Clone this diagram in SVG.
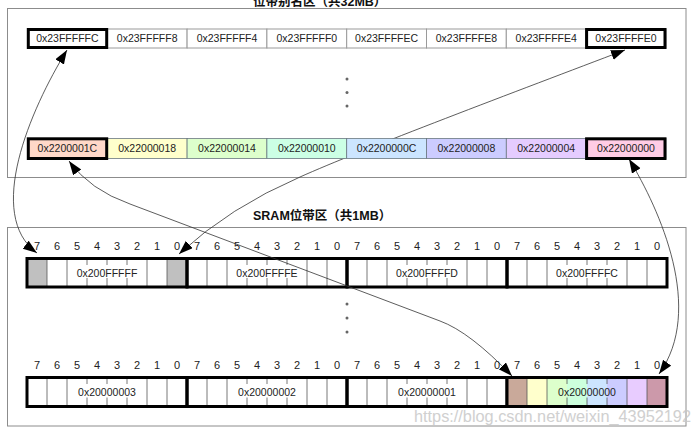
<svg xmlns="http://www.w3.org/2000/svg" width="696" height="433" viewBox="0 0 696 433">
<style>
.panel{fill:none;stroke:#8c8c8c;stroke-width:1}
.c1{fill:#fff;stroke:#9a9a9a;stroke-width:1}
.c2{stroke:#6a7880;stroke-width:0.8}
.hl{fill:none;stroke:#000;stroke-width:3}
.t{font-family:"Liberation Sans",Arial,sans-serif;font-size:10.5px;fill:#222;text-anchor:middle}
.bit{font-family:"Liberation Sans",Arial,sans-serif;font-size:11px;fill:#222;text-anchor:middle}
.title{font-family:"Liberation Sans","Noto Sans CJK SC",sans-serif;font-size:12.5px;font-weight:bold;fill:#111}
.byte{fill:none;stroke:#000;stroke-width:3}
.dv{stroke:#555;stroke-width:0.8}
.dot{fill:#666}
.conn{fill:none;stroke:#333;stroke-width:0.8;marker-start:url(#ah);marker-end:url(#ah)}
.wm{font-family:"Liberation Sans",Arial,sans-serif;font-size:16.3px;fill:#c8c8c8;opacity:0.85}
</style>
<defs>
<marker id="ah" markerUnits="userSpaceOnUse" markerWidth="15" markerHeight="11" refX="14" refY="5" orient="auto-start-reverse" viewBox="0 0 15 11">
<path d="M0,0 L14,5 L0,10 Z" fill="#000"/>
</marker>
</defs>
<rect width="696" height="433" fill="#fff"/>

<g id="alias-panel">
<text class="title" x="253" y="6">位带别名区（共32MB）</text>
<rect class="panel" x="7.5" y="8.5" width="678.5" height="169"/>
<circle class="dot" cx="347" cy="79" r="1.5"/>
<circle class="dot" cx="347" cy="92.5" r="1.5"/>
<circle class="dot" cx="347" cy="106" r="1.5"/>
</g>

<g id="sram-panel">
<text class="title" x="253" y="220">SRAM位带区（共1MB）</text>
<rect class="panel" x="7.5" y="227.5" width="678.5" height="198.5"/>
<circle class="dot" cx="347" cy="304" r="1.5"/>
<circle class="dot" cx="347" cy="318" r="1.5"/>
<circle class="dot" cx="347" cy="332" r="1.5"/>
</g>

<g id="bit-labels">
<g class="bit">
<text x="37" y="250">7</text><text x="57" y="250">6</text><text x="77" y="250">5</text><text x="97" y="250">4</text><text x="117" y="250">3</text><text x="137" y="250">2</text><text x="157" y="250">1</text><text x="177" y="250">0</text>
<text x="197" y="250">7</text><text x="217" y="250">6</text><text x="237" y="250">5</text><text x="257" y="250">4</text><text x="277" y="250">3</text><text x="297" y="250">2</text><text x="317" y="250">1</text><text x="337" y="250">0</text>
<text x="357" y="250">7</text><text x="377" y="250">6</text><text x="397" y="250">5</text><text x="417" y="250">4</text><text x="437" y="250">3</text><text x="457" y="250">2</text><text x="477" y="250">1</text><text x="497" y="250">0</text>
<text x="517" y="250">7</text><text x="537" y="250">6</text><text x="557" y="250">5</text><text x="577" y="250">4</text><text x="597" y="250">3</text><text x="617" y="250">2</text><text x="637" y="250">1</text><text x="657" y="250">0</text>
<text x="37" y="369">7</text><text x="57" y="369">6</text><text x="77" y="369">5</text><text x="97" y="369">4</text><text x="117" y="369">3</text><text x="137" y="369">2</text><text x="157" y="369">1</text><text x="177" y="369">0</text>
<text x="197" y="369">7</text><text x="217" y="369">6</text><text x="237" y="369">5</text><text x="257" y="369">4</text><text x="277" y="369">3</text><text x="297" y="369">2</text><text x="317" y="369">1</text><text x="337" y="369">0</text>
<text x="357" y="369">7</text><text x="377" y="369">6</text><text x="397" y="369">5</text><text x="417" y="369">4</text><text x="437" y="369">3</text><text x="457" y="369">2</text><text x="477" y="369">1</text><text x="497" y="369">0</text>
<text x="517" y="369">7</text><text x="537" y="369">6</text><text x="557" y="369">5</text><text x="577" y="369">4</text><text x="597" y="369">3</text><text x="617" y="369">2</text><text x="637" y="369">1</text><text x="657" y="369">0</text>
</g>
</g>

<g id="byte-200FFFFF">
<rect x="27" y="258.5" width="20" height="28.5" fill="#c0c0c0"/>
<rect x="167" y="258.5" width="20" height="28.5" fill="#c0c0c0"/>
<path class="dv" d="M47,258.5V287M67,258.5V287M147,258.5V287M167,258.5V287M87,258.5v6.5M107,258.5v6.5M127,258.5v6.5M87,278v9M107,278v9M127,278v9"/>
<rect class="byte" x="27" y="258.5" width="160" height="28.5"/>
<text class="t" x="107" y="276.5">0x200FFFFF</text>
</g>
<g id="byte-200FFFFE">
<path class="dv" d="M207,258.5V287M227,258.5V287M307,258.5V287M327,258.5V287M247,258.5v6.5M267,258.5v6.5M287,258.5v6.5M247,278v9M267,278v9M287,278v9"/>
<rect class="byte" x="187" y="258.5" width="160" height="28.5"/>
<text class="t" x="267" y="276.5">0x200FFFFE</text>
</g>
<g id="byte-200FFFFD">
<path class="dv" d="M367,258.5V287M387,258.5V287M467,258.5V287M487,258.5V287M407,258.5v6.5M427,258.5v6.5M447,258.5v6.5M407,278v9M427,278v9M447,278v9"/>
<rect class="byte" x="347" y="258.5" width="160" height="28.5"/>
<text class="t" x="427" y="276.5">0x200FFFFD</text>
</g>
<g id="byte-200FFFFC">
<path class="dv" d="M527,258.5V287M547,258.5V287M627,258.5V287M647,258.5V287M567,258.5v6.5M587,258.5v6.5M607,258.5v6.5M567,278v9M587,278v9M607,278v9"/>
<rect class="byte" x="507" y="258.5" width="160" height="28.5"/>
<text class="t" x="587" y="276.5">0x200FFFFC</text>
</g>

<g id="byte-20000003">
<path class="dv" d="M47,377.5V406.5M67,377.5V406.5M147,377.5V406.5M167,377.5V406.5M87,377.5v6.5M107,377.5v6.5M127,377.5v6.5M87,397.5v9M107,397.5v9M127,397.5v9"/>
<rect class="byte" x="27" y="377.5" width="160" height="29"/>
<text class="t" x="107" y="396">0x20000003</text>
</g>
<g id="byte-20000002">
<path class="dv" d="M207,377.5V406.5M227,377.5V406.5M307,377.5V406.5M327,377.5V406.5M247,377.5v6.5M267,377.5v6.5M287,377.5v6.5M247,397.5v9M267,397.5v9M287,397.5v9"/>
<rect class="byte" x="187" y="377.5" width="160" height="29"/>
<text class="t" x="267" y="396">0x20000002</text>
</g>
<g id="byte-20000001">
<path class="dv" d="M367,377.5V406.5M387,377.5V406.5M467,377.5V406.5M487,377.5V406.5M407,377.5v6.5M427,377.5v6.5M447,377.5v6.5M407,397.5v9M427,397.5v9M447,397.5v9"/>
<rect class="byte" x="347" y="377.5" width="160" height="29"/>
<text class="t" x="427" y="396">0x20000001</text>
</g>
<g id="byte-20000000">
<rect x="507" y="377.5" width="20" height="29" fill="#c9a99a"/>
<rect x="527" y="377.5" width="20" height="29" fill="#ffffcc"/>
<rect x="547" y="377.5" width="20" height="29" fill="#ddffcc"/>
<rect x="567" y="377.5" width="20" height="29" fill="#ccffdd"/>
<rect x="587" y="377.5" width="20" height="29" fill="#cce5ff"/>
<rect x="607" y="377.5" width="20" height="29" fill="#ccccff"/>
<rect x="627" y="377.5" width="20" height="29" fill="#e8ccff"/>
<rect x="647" y="377.5" width="20" height="29" fill="#cc99aa"/>
<path class="dv" d="M527,377.5V406.5M547,377.5V406.5M627,377.5V406.5M647,377.5V406.5M567,377.5v6.5M587,377.5v6.5M607,377.5v6.5M567,397.5v9M587,397.5v9M607,397.5v9"/>
<rect class="byte" x="507" y="377.5" width="160" height="29"/>
<text class="t" x="587" y="396" fill="#333">0x20000000</text>
</g>

<g id="connectors">
<path class="conn" d="M67,50 C30,110 -15,215 37,253"/>
<path class="conn" d="M625,50 C520,90 360,150 300,177 Q230,207 179,254"/>
<path class="conn" d="M69,161 Q90,190 130,204 L440,321 Q470,332 512,376"/>
<path class="conn" d="M629,159 C660,210 705,310 659,374"/>
</g>

<g id="alias-row-1">
<rect class="c1" x="27.5" y="29" width="79.8" height="19"/>
<rect class="c1" x="107.3" y="29" width="79.8" height="19"/>
<rect class="c1" x="187.1" y="29" width="79.8" height="19"/>
<rect class="c1" x="266.9" y="29" width="79.8" height="19"/>
<rect class="c1" x="346.7" y="29" width="79.8" height="19"/>
<rect class="c1" x="426.5" y="29" width="79.8" height="19"/>
<rect class="c1" x="506.3" y="29" width="79.8" height="19"/>
<rect class="c1" x="586.1" y="29" width="79.8" height="19"/>
<rect class="hl" x="28.3" y="29.5" width="78.4" height="18"/>
<rect class="hl" x="586.6" y="29.5" width="78.4" height="18"/>
<text class="t" x="67.4" y="42">0x23FFFFFC</text>
<text class="t" x="147.2" y="42">0x23FFFFF8</text>
<text class="t" x="227" y="42">0x23FFFFF4</text>
<text class="t" x="306.8" y="42">0x23FFFFF0</text>
<text class="t" x="386.6" y="42">0x23FFFFEC</text>
<text class="t" x="466.4" y="42">0x23FFFFE8</text>
<text class="t" x="546.2" y="42">0x23FFFFE4</text>
<text class="t" x="626" y="42">0x23FFFFE0</text>
</g>

<g id="alias-row-2">
<rect class="c2" x="27.5" y="138.5" width="79.8" height="20" fill="#ffd8c8"/>
<rect class="c2" x="107.3" y="138.5" width="79.8" height="20" fill="#ffffcc"/>
<rect class="c2" x="187.1" y="138.5" width="79.8" height="20" fill="#ddffcc"/>
<rect class="c2" x="266.9" y="138.5" width="79.8" height="20" fill="#ccffe5"/>
<rect class="c2" x="346.7" y="138.5" width="79.8" height="20" fill="#cce5ff"/>
<rect class="c2" x="426.5" y="138.5" width="79.8" height="20" fill="#ccccff"/>
<rect class="c2" x="506.3" y="138.5" width="79.8" height="20" fill="#e5ccff"/>
<rect class="c2" x="586.1" y="138.5" width="79.8" height="20" fill="#ffcce5"/>
<rect class="hl" x="28.3" y="138.8" width="78.4" height="19.7"/>
<rect class="hl" x="586.6" y="138.8" width="78.4" height="19.7"/>
<text class="t" x="67.4" y="152">0x2200001C</text>
<text class="t" x="147.2" y="152">0x22000018</text>
<text class="t" x="227" y="152">0x22000014</text>
<text class="t" x="306.8" y="152">0x22000010</text>
<text class="t" x="386.6" y="152">0x2200000C</text>
<text class="t" x="466.4" y="152">0x22000008</text>
<text class="t" x="546.2" y="152">0x22000004</text>
<text class="t" x="626" y="152">0x22000000</text>
</g>

<text class="wm" x="414" y="422">https://blog.csdn.net/weixin_43952192</text>
</svg>
